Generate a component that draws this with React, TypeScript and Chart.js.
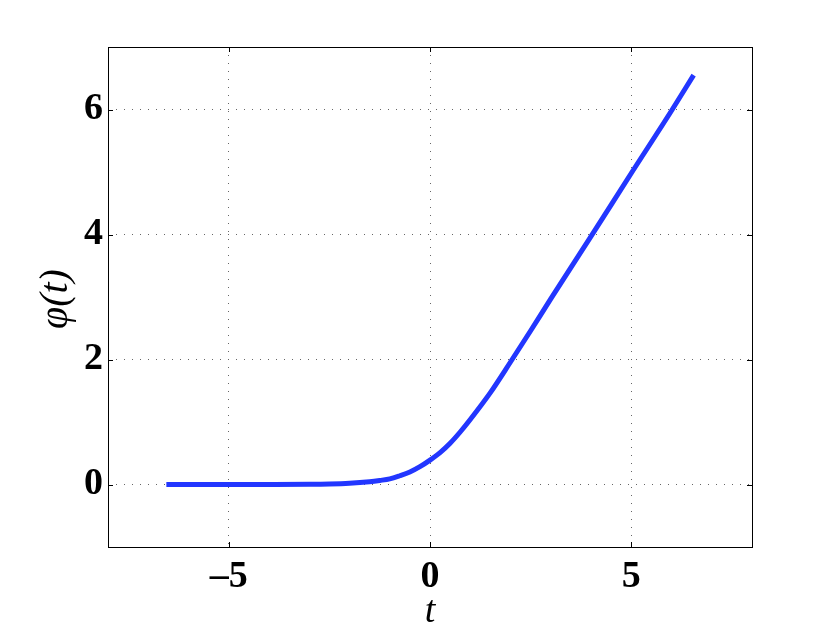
import React, { useEffect, useRef } from "react";
import { Chart, registerables } from "chart.js";

Chart.register(...registerables);

const tValues = [-6.55, -5, -4, -3, -2.5, -2, -1.5, -1.25, -1, -0.75, -0.5, -0.25, 0, 0.25, 0.5, 0.75, 1, 1.5, 2, 2.5, 3, 4, 5, 6, 6.55];
const phiValues = [0, 0, 0.0005, 0.003, 0.008, 0.02, 0.045, 0.065, 0.09, 0.14, 0.2, 0.285, 0.39, 0.51, 0.66, 0.84, 1.04, 1.47, 1.96, 2.46, 2.97, 3.97, 4.98, 5.98, 6.55];
const xTicks = [-5, 0, 5];
const yTicks = [0, 2, 4, 6];
const xTitle = "t";
const yTitle = "φ(t)";

const framePlugin = {
  id: "frame",
  afterDraw(chart: any) {
    const { ctx, chartArea, scales } = chart;
    const { left, right, top, bottom } = chartArea;
    ctx.save();
    ctx.strokeStyle = "#000";
    ctx.lineWidth = 1;
    ctx.setLineDash([]);
    ctx.strokeRect(left + 0.5, top + 0.5, right - left, bottom - top);
    const tl = 5;
    ctx.beginPath();
    for (const v of xTicks) {
      const x = Math.round(scales.x.getPixelForValue(v)) + 0.5;
      ctx.moveTo(x, bottom);
      ctx.lineTo(x, bottom - tl);
      ctx.moveTo(x, top);
      ctx.lineTo(x, top + tl);
    }
    for (const v of yTicks) {
      const y = Math.round(scales.y.getPixelForValue(v)) + 0.5;
      ctx.moveTo(left, y);
      ctx.lineTo(left + tl, y);
      ctx.moveTo(right, y);
      ctx.lineTo(right - tl, y);
    }
    ctx.stroke();
    ctx.fillStyle = "#000";
    ctx.font = "italic 38px 'Liberation Serif', serif";
    ctx.textAlign = "center";
    ctx.textBaseline = "alphabetic";
    ctx.fillText(xTitle, scales.x.getPixelForValue(0), 622);
    ctx.translate(67, 299);
    ctx.rotate(-Math.PI / 2);
    ctx.font = "italic 40px 'Liberation Serif', serif";
    ctx.fillText(yTitle, 0, 0);
    ctx.restore();
  },
};

export default function App() {
  const ref = useRef<HTMLCanvasElement>(null);
  useEffect(() => {
    document.body.style.margin = "0";
    const gridColor = (c: any) =>
      c.tick && (c.tick.value === -8 || c.tick.value === 8 || c.tick.value === -1 || c.tick.value === 7)
        ? "rgba(0,0,0,0)"
        : "#666";
    const tickFont = { family: "'Liberation Serif', serif", size: 38, weight: "bold", lineHeight: 1.0 };
    const chart = new Chart(ref.current!, {
      type: "line",
      data: {
        datasets: [
          {
            data: tValues.map((t, i) => ({ x: t, y: phiValues[i] })),
            borderColor: "#2236ff",
            borderWidth: 5,
            pointRadius: 0,
            cubicInterpolationMode: "monotone",
            fill: false,
          },
        ],
      },
      options: {
        animation: false,
        responsive: false,
        maintainAspectRatio: false,
        layout: { padding: { top: 47, right: 78, left: 0, bottom: 0 } },
        plugins: { legend: { display: false }, tooltip: { enabled: false } },
        scales: {
          x: {
            type: "linear",
            min: -8,
            max: 8,
            afterBuildTicks: (s: any) => {
              s.ticks = xTicks.map((v) => ({ value: v }));
            },
            afterFit: (s: any) => {
              s.height = 78;
            },
            border: { display: false, dash: [1, 7] },
            grid: { color: gridColor, lineWidth: 1, drawTicks: false },
            ticks: {
              padding: 11,
              color: "#000",
              font: tickFont,
              callback: (v: any) => (v < 0 ? "\u2013" + Math.abs(v) : String(v)),
              maxRotation: 0,
            },
          },
          y: {
            type: "linear",
            min: -1,
            max: 7,
            afterBuildTicks: (s: any) => {
              s.ticks = yTicks.map((v) => ({ value: v }));
            },
            afterFit: (s: any) => {
              s.width = 108;
            },
            border: { display: false, dash: [1, 7] },
            grid: { color: gridColor, lineWidth: 1, drawTicks: false },
            ticks: {
              padding: 5,
              color: "#000",
              font: tickFont,
            },
          },
        },
      } as any,
      plugins: [framePlugin],
    } as any);
    return () => chart.destroy();
  }, []);
  return (
    <div style={{ width: 830, height: 625, background: "#fff" }}>
      <canvas ref={ref} width={830} height={625} style={{ width: 830, height: 625, display: "block" }} />
    </div>
  );
}
